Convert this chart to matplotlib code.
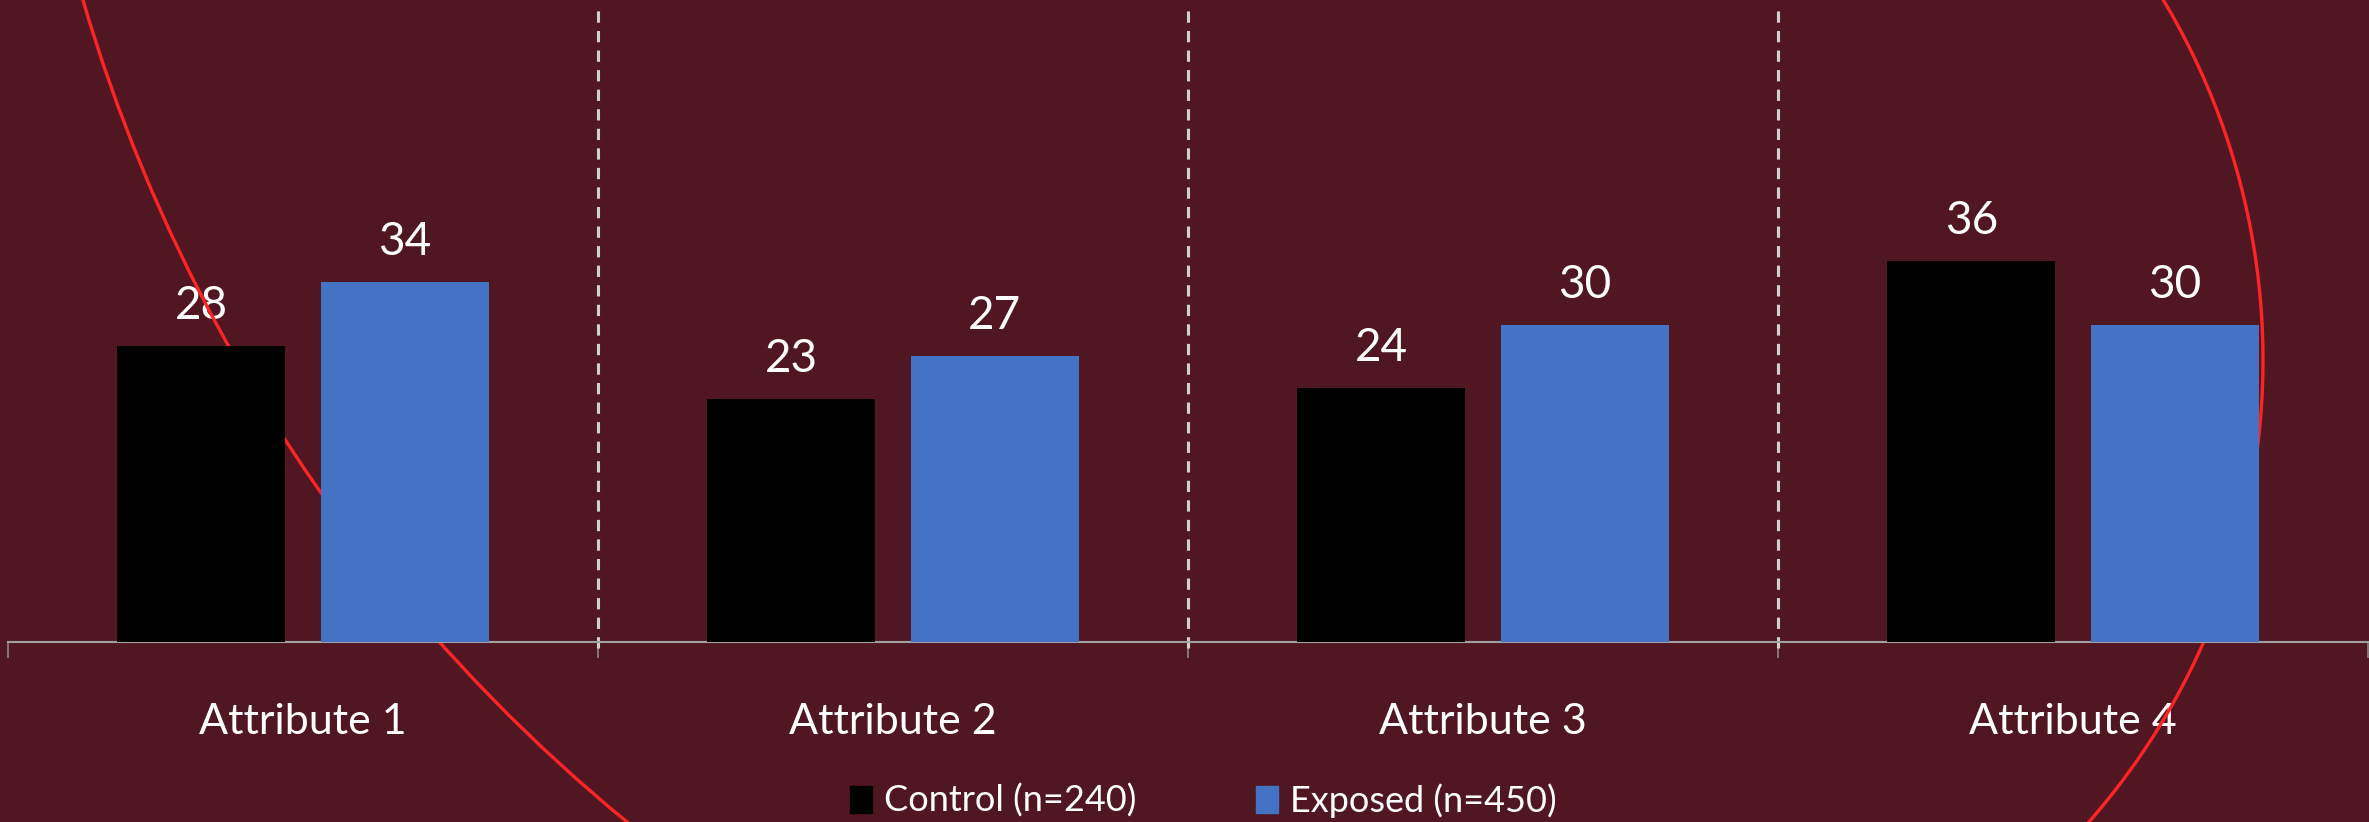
import numpy as np
import matplotlib
matplotlib.use("Agg")
import matplotlib.pyplot as plt
from matplotlib.patches import Arc, Patch
from matplotlib.transforms import IdentityTransform

categories = ["Attribute 1", "Attribute 2", "Attribute 3", "Attribute 4"]
control = [28, 23, 24, 36]
exposed = [34, 27, 30, 30]
series_names = ["Control (n=240)", "Exposed (n=450)"]

bg = "#501722"
plt.rcParams["font.family"] = ["Lato", "DejaVu Sans"]

fig = plt.figure(figsize=(23.69, 8.22), dpi=100, facecolor=bg)
ax = fig.add_axes([8 / 2369, 180 / 822, 2360 / 2369, 642 / 822])
ax.set_facecolor(bg)

x = np.arange(len(categories))
w = 0.285
off = 0.1725
b1 = ax.bar(x - off, control, w, color="#000000", zorder=3)
b2 = ax.bar(x + off, exposed, w, color="#4472C4", zorder=3)

for rects, vals in ((b1, control), (b2, exposed)):
    for r, v in zip(rects, vals):
        ax.text(r.get_x() + r.get_width() / 2, v + 1.8, str(v), ha="center", va="bottom",
                color="white", fontsize=33, zorder=1)

ax.set_xlim(-0.5, len(categories) - 0.5)
ax.set_ylim(0, 60.7)
ax.set_yticks([])
for s in ("left", "right", "top"):
    ax.spines[s].set_visible(False)
ax.spines["bottom"].set_color("#a0a0a0")
ax.spines["bottom"].set_linewidth(1.5)

# category labels + boundary ticks
ax.set_xticks(x)
ax.set_xticklabels(categories, color="white", fontsize=31)
ax.tick_params(axis="x", which="major", length=0, pad=44)
ax.set_xticks(np.arange(-0.5, len(categories), 1.0), minor=True)
ax.tick_params(axis="x", which="minor", length=11.5, width=1.2, color="#8a8a8a", direction="out")

# dashed separators
for xs in np.arange(0.5, len(categories) - 0.5, 1.0):
    ax.plot([xs, xs], [-0.6, 59.8], color="#d0d0d0", lw=2.2, dashes=(3.7, 2.7),
            clip_on=False, zorder=2)

# decorative red arcs (pixel coords)
ax.add_patch(Arc((1689, 1294), 2 * 1674, 2 * 1674, theta1=190, theta2=240,
                 transform=IdentityTransform(), color="#ff2424", lw=2.4,
                 clip_on=False, zorder=2))
ax.add_patch(Arc((1563, 462), 2 * 700, 2 * 700, theta1=-50, theta2=40,
                 transform=IdentityTransform(), color="#ff2424", lw=2.4,
                 clip_on=False, zorder=2))

handles = [Patch(color="#000000"), Patch(color="#4472C4")]
leg = fig.legend(handles, series_names, loc="center", bbox_to_anchor=(0.508, 0.026),
                 ncol=2, frameon=False, fontsize=26, handlelength=0.6, handleheight=0.75,
                 handletextpad=0.35, columnspacing=3.3)
for t in leg.get_texts():
    t.set_color("white")

fig.savefig("out.png", dpi=100, facecolor=bg)
